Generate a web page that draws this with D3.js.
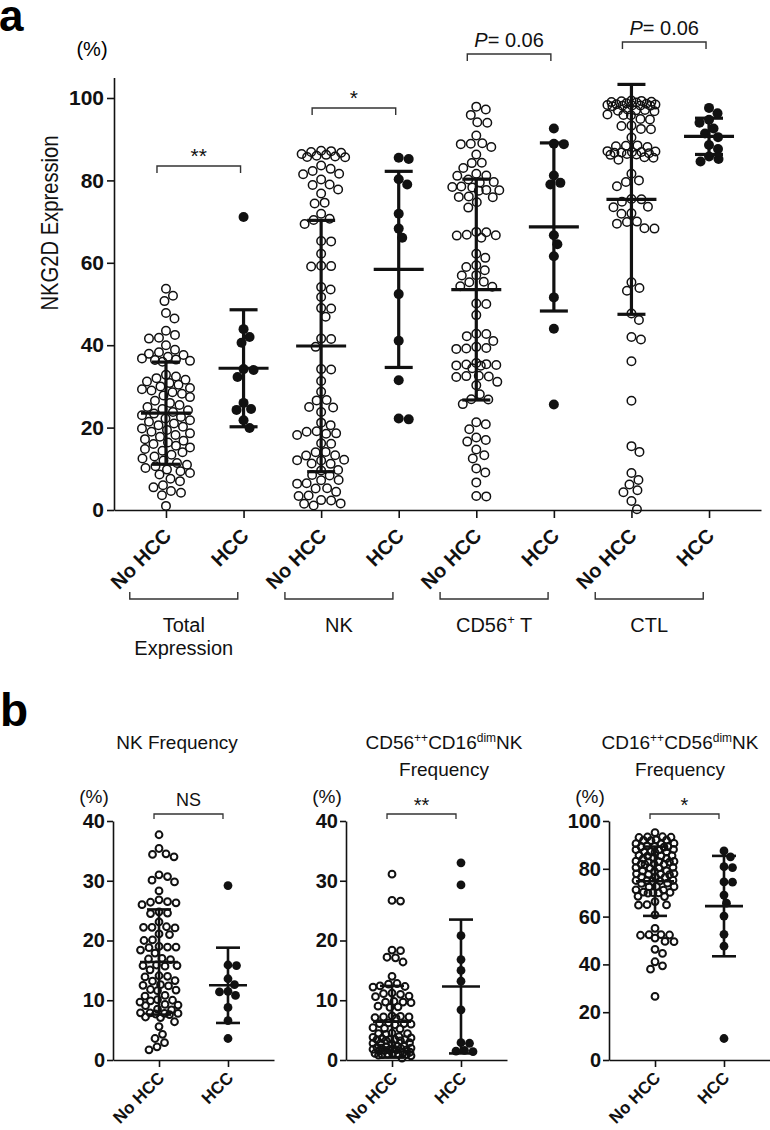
<!DOCTYPE html>
<html><head><meta charset="utf-8">
<script src="https://cdn.jsdelivr.net/npm/d3@7"></script>
<style>
html,body{margin:0;padding:0;background:#fff;}
svg{display:block;font-family:"Liberation Sans",Arial,Helvetica,sans-serif;}
</style></head>
<body><svg id="c" width="770" height="1130"></svg>
<script>
// ---------------- DATA ----------------
const groupsA = ["Total Expression", "NK", "CD56+ T", "CTL"];
const catsA = ["No HCC", "HCC"];
const yTicksA = [0, 20, 40, 60, 80, 100];
const sigA = ["**", "*", "P= 0.06", "P= 0.06"];

const totalNoHCC = [53.7,52.0,50.7,47.8,46.5,43.5,42.5,41.8,41.6,40.0,38.9,38.3,37.9,37.6,37.2,36.8,36.5,36.0,36.2,36.4,
  32.8,32.4,32.0,31.6,31.2,30.8,30.4,30.0,29.6,29.3,29.0,28.6,28.2,27.8,27.4,26.5,26.0,25.5,25.0,24.5,24.2,23.8,23.4,23.0,
  22.6,22.2,21.8,21.4,21.0,20.6,20.2,19.8,19.4,19.0,18.6,18.2,17.8,17.2,16.8,16.4,16.0,15.6,15.2,14.8,14.4,14.0,13.4,13.0,
  12.5,12.0,11.4,11.0,10.6,10.2,9.8,9.4,9.0,8.6,7.6,7.0,6.0,5.5,4.6,4.2,3.6,1.0];
const totalHCC = [71.1,43.9,42.0,40.6,34.2,34.0,32.3,26.0,24.5,24.3,21.8,19.9];
const nkNoHCC = [87.2,86.9,86.4,86.0,85.7,85.6,85.8,86.2,86.7,87.1,83.6,82.8,82.3,81.6,81.5,80.2,79.0,78.9,77.8,76.8,74.6,74.4,
  71.9,70.7,70.4,69.4,65.3,65.2,62.2,59.2,59.1,59.3,54.1,53.5,51.7,49.0,48.9,46.9,41.6,41.5,39.6,34.2,34.1,31.3,
  28.7,26.7,26.6,25.0,24.9,23.8,21.2,20.6,19.0,19.1,18.6,18.5,18.2,16.2,16.1,14.1,14.0,13.3,13.2,12.1,12.0,12.2,11.3,11.2,
  9.7,9.6,8.5,8.4,7.3,7.2,6.5,6.4,5.3,5.2,4.4,3.5,3.4,2.4,2.3,1.6,1.5,1.1];
const nkHCC = [85.5,85.2,80.3,79.0,71.9,68.3,66.1,52.4,41.1,31.5,22.2,22.0];
const cd56NoHCC = [97.9,97.2,95.9,94.0,94.1,90.9,88.9,88.8,89.0,88.1,86.3,84.3,84.2,83.0,81.6,81.2,81.1,80.2,79.6,79.5,
  78.4,78.3,78.5,77.6,77.5,77.7,76.0,76.1,75.9,74.7,73.4,67.5,67.4,66.7,66.6,66.8,66.1,62.2,61.2,59.4,59.0,58.2,57.0,56.9,
  55.4,55.3,54.3,54.2,50.1,50.0,47.3,42.8,42.7,42.2,41.0,39.6,39.2,39.1,39.3,35.7,35.2,35.1,35.3,35.0,35.4,34.4,
  32.5,32.4,32.6,32.3,31.1,30.3,28.1,26.9,26.8,25.7,21.3,20.8,19.6,17.6,17.0,16.6,14.7,13.3,12.5,10.1,9.1,6.7,3.4,3.3];
const cd56HCC = [92.6,88.9,88.8,81.2,79.4,79.0,66.7,64.5,61.6,51.6,44.0,25.6];
const ctlNoHCC = [99.2,99.3,99.1,99.0,99.4,98.9,98.5,98.6,98.4,98.7,98.2,98.1,98.3,98.0,98.2,98.1,97.0,97.2,96.9,97.1,96.8,
  95.9,96.0,95.8,94.9,94.8,93.2,93.3,92.5,92.4,90.4,88.4,88.5,88.3,88.1,87.0,87.1,86.9,86.8,86.7,86.9,86.6,86.3,86.2,86.4,
  85.6,85.5,85.0,81.6,80.0,79.6,78.6,75.4,75.5,74.8,73.5,73.6,71.9,72.0,69.9,70.0,69.5,68.3,68.4,
  55.3,53.9,53.2,47.7,46.1,42.0,41.4,36.1,26.5,15.5,14.1,9.0,7.3,6.2,4.8,4.3,2.2,0.2];
const ctlHCC = [97.6,96.3,94.7,94.0,92.6,91.4,90.5,88.6,87.6,85.8,85.2,84.6];
const meansA = [23.5, 34.4, 39.8, 58.4, 53.5, 68.7, 75.4, 90.7];
const sdA = [12.4, 14.2, 30.5, 23.8, 26.8, 20.4, 27.9, 4.4];

const catsB = ["No HCC", "HCC"];
const yTicksB12 = [0, 10, 20, 30, 40];
const yTicksB3 = [0, 20, 40, 60, 80, 100];
const sigB = ["NS", "**", "*"];
const nkFreqNoHCC = [37.7,35.4,34.4,34.5,34.0,31.0,30.7,30.1,29.8,28.3,26.8,26.4,26.5,26.3,26.0,24.8,24.6,24.5,23.1,22.2,22.1,22.3,22.2,
  21.1,21.0,20.0,20.1,18.9,18.8,19.0,18.9,18.4,17.9,16.9,16.8,17.0,15.8,15.7,15.9,15.8,15.1,14.0,14.1,13.9,13.3,13.2,12.5,12.4,12.6,
  11.7,11.6,11.8,10.8,10.7,10.0,10.1,9.9,9.7,9.2,9.1,9.3,8.4,8.5,7.8,7.7,7.9,7.8,7.6,7.9,7.2,7.1,6.4,5.6,4.3,3.6,2.9,2.2,1.7];
const nkFreqHCC = [29.2,15.8,15.9,13.6,12.6,11.5,11.4,10.8,8.8,6.6,3.6];
const cd56briNoHCC = [31.1,26.7,26.6,18.3,18.4,17.2,17.1,16.4,14.0,12.8,12.7,12.3,12.2,12.4,11.1,11.0,11.2,10.7,10.6,9.7,9.6,9.8,9.7,
  8.9,8.8,9.0,7.2,7.1,7.3,7.2,7.0,7.4,6.1,6.0,6.2,6.1,5.9,5.3,5.2,5.4,4.4,4.3,4.5,4.4,3.8,3.9,3.7,3.4,3.3,3.5,3.4,3.2,3.6,3.4,
  2.8,2.7,2.9,2.8,2.3,2.2,2.4,2.0,2.1,1.9,2.0,1.7,1.6,1.8,1.7,1.5,1.9,1.7,1.2,1.1,1.3,1.0,0.9,1.0,1.1,0.8,0.7,0.9,0.3];
const cd56briHCC = [33.0,29.3,20.8,16.8,15.0,13.2,8.4,2.9,2.8,1.6,1.5,1.4];
const cd16briNoHCC = [95.1,93.3,93.4,93.1,93.2,92.0,91.9,92.1,91.8,90.5,90.6,90.4,89.3,89.2,89.4,89.1,89.5,88.0,88.1,87.9,
  87.0,87.1,86.9,87.2,85.5,85.4,85.6,85.3,84.3,84.2,84.4,83.0,83.1,82.9,83.2,82.8,82.0,81.9,82.1,81.8,80.5,80.4,80.6,80.3,
  79.0,79.1,78.9,77.8,77.9,77.7,78.0,77.6,76.5,76.4,76.6,75.0,75.1,74.9,75.2,74.8,74.0,73.9,72.5,72.6,72.4,71.2,71.1,
  70.0,70.1,69.9,70.2,69.8,68.5,68.4,66.3,64.9,65.0,64.8,60.7,55.1,52.3,52.4,52.2,52.5,51.0,49.5,49.6,46.3,44.6,41.1,39.4,38.0,26.6];
const cd16briHCC = [87.5,85.0,80.5,80.9,74.4,74.5,69.0,65.6,60.2,52.6,47.6,9.0];
const meansB1 = [16.4, 12.5], sdB1 = [8.8, 6.3];
const meansB2 = [6.4, 12.3], sdB2 = [6.0, 11.2];
const meansB3 = [74.8, 64.4], sdB3 = [14.5, 21.0];
const titlesB = [["NK Frequency"], ["CD56|++|CD16|dim|NK", "Frequency"], ["CD16|++|CD56|dim|NK", "Frequency"]];

// ---------------- HELPERS ----------------
const svg = d3.select("#c");
const INK = "#111";

function swarm(values, cx, y, r, maxW, dmin) {
  const pts = values.map(v => ({v, y: y(v)})).sort((a, b) => a.y - b.y);
  const placed = [];
  const cands = [0];
  for (let d = 0.5; d <= maxW + 1e-6; d += 0.5) cands.push(d, -d);
  for (const p of pts) {
    let best = 0, bestScore = -1;
    for (const dx of cands) {
      let md = Infinity;
      for (const q of placed) {
        const dy = q.y - p.y;
        if (Math.abs(dy) >= dmin) continue;
        const d = Math.hypot(q.dx - dx, dy);
        if (d < md) md = d;
      }
      if (md >= dmin) { best = dx; break; }
      if (md > bestScore) { bestScore = md; best = dx; }
    }
    p.dx = best; placed.push(p);
  }
  return pts.map(p => ({v: p.v, x: cx + p.dx, y: p.y}));
}

function drawDots(g, values, cx, y, filled, r, sw, maxW) {
  const pts = swarm(values, cx, y, r, maxW, 2 * r - 0.3);
  g.selectAll(null).data(pts).join("circle")
    .attr("cx", d => d.x).attr("cy", d => d.y).attr("r", filled ? r : r - sw / 2)
    .attr("fill", filled ? INK : "none")
    .attr("stroke", filled ? "none" : INK).attr("stroke-width", sw);
}

function drawErr(g, cx, y, mean, sd, halfMean, halfCap, sw) {
  const e = g.append("g").attr("stroke", INK).attr("stroke-width", sw);
  e.append("line").attr("x1", cx).attr("x2", cx).attr("y1", y(mean - sd)).attr("y2", y(mean + sd));
  e.append("line").attr("x1", cx - halfMean).attr("x2", cx + halfMean).attr("y1", y(mean)).attr("y2", y(mean));
  [mean - sd, mean + sd].forEach(v => e.append("line").attr("x1", cx - halfCap).attr("x2", cx + halfCap).attr("y1", y(v)).attr("y2", y(v)));
}

function bracket(g, x1, x2, yy, drop, sw) {
  g.append("path").attr("d", `M${x1},${yy + drop}V${yy}H${x2}V${yy + drop}`)
    .attr("fill", "none").attr("stroke", "#333").attr("stroke-width", sw);
}

function sigText(g, x, yy, s, size) {
  const t = g.append("text").attr("x", x).attr("y", yy).attr("text-anchor", "middle")
    .attr("font-size", size).attr("fill", INK);
  if (s.startsWith("P")) {
    t.append("tspan").attr("font-style", "italic").text("P");
    t.append("tspan").text(s.slice(1));
  } else t.text(s);
}

function styleAxis(g, sw) {
  g.selectAll("path.domain").attr("stroke", INK).attr("stroke-width", sw);
  g.selectAll(".tick line").attr("stroke", INK).attr("stroke-width", sw);
}

// ---------------- PANEL a ----------------
svg.append("text").attr("x", -1).attr("y", 31).attr("font-size", 44).attr("font-weight", "bold").text("a");
svg.append("text").attr("x", 92).attr("y", 56).attr("text-anchor", "middle").attr("font-size", 20).text("(%)");

const keysA = [];
groupsA.forEach(gname => catsA.forEach(c => keysA.push(gname + "|" + c)));
const xA = d3.scalePoint().domain(keysA).range([114, 761]).padding(0.67);
const yA = d3.scaleLinear().domain([0, 105]).range([510, 77.4]);

const gA = svg.append("g");
const axYA = gA.append("g").attr("transform", "translate(114,0)")
  .call(d3.axisLeft(yA).tickValues(yTicksA).tickSize(7).tickPadding(3).tickSizeOuter(0));
axYA.selectAll("text").attr("font-size", 21).attr("font-weight", "bold").attr("fill", INK).attr("font-family", null);
styleAxis(axYA, 1.6);

const axXA = gA.append("g").attr("transform", "translate(0,510)")
  .call(d3.axisBottom(xA).tickSize(8).tickSizeOuter(0).tickFormat(k => k.split("|")[1]));
axXA.selectAll("text").attr("font-size", 20).attr("font-weight", "bold").attr("fill", INK).attr("font-family", null)
  .attr("text-anchor", "end").attr("x", 0).attr("y", 0).attr("dy", null)
  .attr("transform", "translate(6,27) rotate(-45)");
styleAxis(axXA, 1.6);

gA.append("text").attr("transform", "translate(58,223) rotate(-90)").attr("text-anchor", "middle")
  .attr("font-size", 24).attr("textLength", 175).attr("lengthAdjust", "spacingAndGlyphs")
  .attr("fill", INK).text("NKG2D Expression");

const seriesA = [[totalNoHCC, totalHCC], [nkNoHCC, nkHCC], [cd56NoHCC, cd56HCC], [ctlNoHCC, ctlHCC]];
const dotsA = gA.append("g");
seriesA.forEach((pair, i) => pair.forEach((vals, j) => {
  const k = groupsA[i] + "|" + catsA[j];
  drawDots(dotsA, vals, xA(k), yA, j === 1, 5, 1.5, j === 1 ? 16 : 24);
}));
const errA = gA.append("g");
keysA.forEach((k, idx) => drawErr(errA, xA(k), yA, meansA[idx], sdA[idx], 25, 14, 3.2));

// significance brackets on top
const brYA = [166, 108, 54, 42];
groupsA.forEach((gname, i) => {
  const x1 = xA(gname + "|No HCC") - 9, x2 = xA(gname + "|HCC") - 3;
  bracket(gA, x1, x2, brYA[i], 7, 1.4);
  const isP = sigA[i].startsWith("P");
  sigText(gA, (x1 + x2) / 2, brYA[i] - (isP ? 7 : 3), sigA[i], isP ? 20 : 21);
});

// group brackets below
groupsA.forEach((gname, i) => {
  const c = (xA(gname + "|No HCC") + xA(gname + "|HCC")) / 2 - 21;
  bracket(gA, c - 54, c + 54, 599, -7, 1.4);
  const t = gA.append("text").attr("x", c).attr("y", 632).attr("text-anchor", "middle").attr("font-size", 20).attr("fill", INK);
  if (gname === "Total Expression") {
    t.append("tspan").attr("x", c).text("Total");
    t.append("tspan").attr("x", c).attr("dy", 23).text("Expression");
  } else if (gname === "CD56+ T") {
    t.append("tspan").text("CD56");
    t.append("tspan").attr("font-size", 13).attr("dy", -8).text("+");
    t.append("tspan").attr("dy", 8).text(" T");
  } else t.text(gname);
});

// ---------------- PANEL b ----------------
svg.append("text").attr("x", 0).attr("y", 726).attr("font-size", 46).attr("font-weight", "bold").text("b");

const panelsB = [
  {ax: 113, dom: [0, 40], ticks: yTicksB12, data: [nkFreqNoHCC, nkFreqHCC], m: meansB1, s: sdB1, title: titlesB[0], sig: sigB[0], tc: 177},
  {ax: 346, dom: [0, 40], ticks: yTicksB12, data: [cd56briNoHCC, cd56briHCC], m: meansB2, s: sdB2, title: titlesB[1], sig: sigB[1], tc: 444},
  {ax: 609, dom: [0, 100], ticks: yTicksB3, data: [cd16briNoHCC, cd16briHCC], m: meansB3, s: sdB3, title: titlesB[2], sig: sigB[2], tc: 680}
];

panelsB.forEach(p => {
  const g = svg.append("g");
  const x = d3.scalePoint().domain(catsB).range([p.ax, p.ax + 161]).padding(0.667);
  const y = d3.scaleLinear().domain(p.dom).range([1060, 821]);
  const ay = g.append("g").attr("transform", `translate(${p.ax},0)`)
    .call(d3.axisLeft(y).tickValues(p.ticks).tickSize(6).tickPadding(2).tickSizeOuter(0));
  ay.selectAll("text").attr("font-size", 20).attr("font-weight", "bold").attr("fill", INK).attr("font-family", null);
  styleAxis(ay, 1.6);
  const axx = g.append("g").attr("transform", "translate(0,1060)")
    .call(d3.axisBottom(x).tickSize(7).tickSizeOuter(0));
  axx.selectAll("text").attr("font-size", 17).attr("font-weight", "bold").attr("fill", INK).attr("font-family", null)
    .attr("text-anchor", "end").attr("x", 0).attr("y", 0).attr("dy", null)
    .attr("transform", "translate(6,19) rotate(-45)");
  styleAxis(axx, 1.6);

  // title
  p.title.forEach((line, li) => {
    const t = g.append("text").attr("x", p.tc).attr("y", 749 + li * 27).attr("text-anchor", "middle")
      .attr("font-size", 19).attr("fill", INK);
    const parts = line.split("|");
    parts.forEach((part, pi) => {
      const sup = pi % 2 === 1;
      const ts = t.append("tspan").text(part);
      if (sup) ts.attr("font-size", 12).attr("dy", -7);
      else if (pi > 0) ts.attr("dy", 7);
    });
  });
  g.append("text").attr("x", p.ax - 19).attr("y", 803).attr("text-anchor", "middle").attr("font-size", 19).attr("fill", INK).text("(%)");

  // brackets
  const x1 = x("No HCC") - 5, x2 = x("HCC") - 5;
  bracket(g, x1, x2, 814, 5, 1.3);
  sigText(g, (x1 + x2) / 2, p.sig === "NS" ? 806 : 812, p.sig, p.sig === "NS" ? 18 : 20);

  // dots
  const dg = g.append("g");
  p.data.forEach((vals, j) => drawDots(dg, vals, x(catsB[j]), y, j === 1, 4.4, 2, j === 1 ? 16 : 19));
  const eg = g.append("g");
  catsB.forEach((c, j) => drawErr(eg, x(c), y, p.m[j], p.s[j], 19, 12, 2.6));
});
</script></body></html>
